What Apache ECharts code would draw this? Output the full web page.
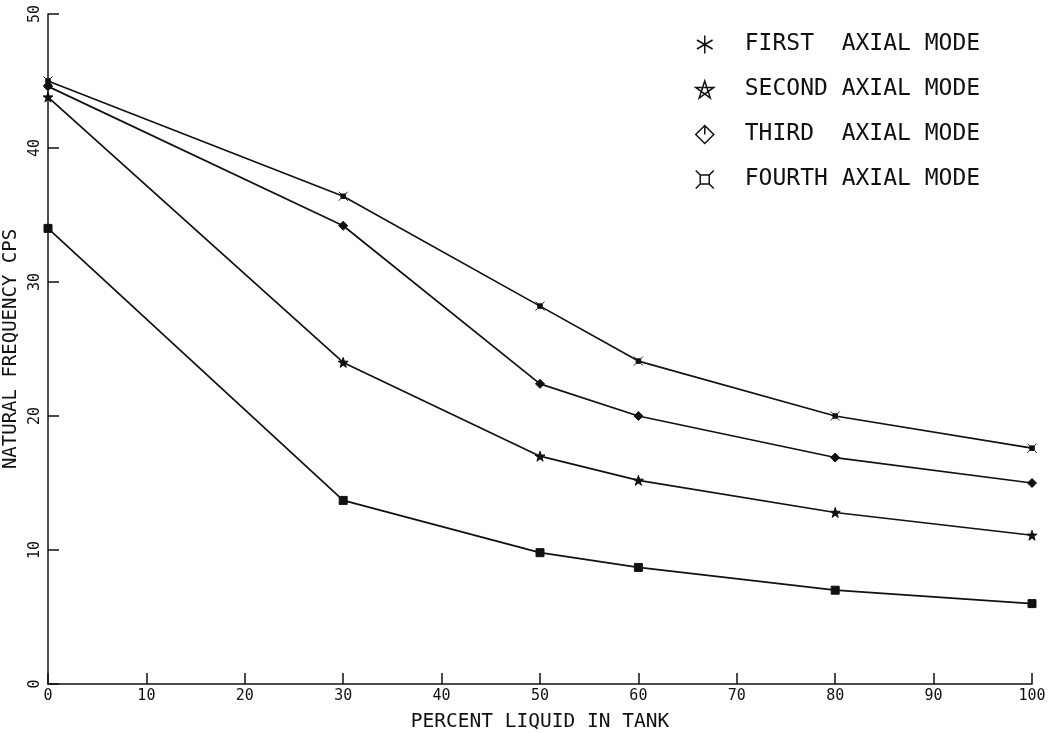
<!DOCTYPE html>
<html>
<head>
<meta charset="utf-8">
<script src="https://cdn.jsdelivr.net/npm/echarts@6/dist/echarts.min.js"></script>
<style>html,body{margin:0;padding:0;background:#fff}#c{width:1052px;height:733px}</style>
</head>
<body>
<div id="c"></div>
<script>
var percent = [0, 30, 50, 60, 80, 100];
var firstMode  = [34.0, 13.7, 9.8, 8.7, 7.0, 6.0];
var secondMode = [43.8, 24.0, 17.0, 15.2, 12.8, 11.1];
var thirdMode  = [44.6, 34.2, 22.4, 20.0, 16.9, 15.0];
var fourthMode = [45.0, 36.4, 28.2, 24.1, 20.0, 17.6];
var seriesNames = ['FIRST  AXIAL MODE', 'SECOND AXIAL MODE', 'THIRD  AXIAL MODE', 'FOURTH AXIAL MODE'];
var xTicks = [0, 10, 20, 30, 40, 50, 60, 70, 80, 90, 100];
var yTicks = [0, 10, 20, 30, 40, 50];

var ASTERISK = 'path://M0,-10L0,10M-8.7,-5L8.7,5M-8.7,5L8.7,-5';
var STAR = 'path://M0,-10L5.88,8.09L-9.51,-3.09L9.51,-3.09L-5.88,8.09Z';
var DIAMOND = 'path://M0,-10L10,0L0,10L-10,0ZM0,-10L0,0';
var XBOX = 'path://M-5,-5L5,-5L5,5L-5,5ZM-5,-5L-10,-10M5,-5L10,-10M5,5L10,10M-5,5L-10,10';

function pairs(ys){ return percent.map(function(x,i){ return [x, ys[i]]; }); }

var chart = echarts.init(document.getElementById('c'));
var mono = 'DejaVu Sans Mono';
var lineStyle = {color:'#111', width:1.7};
function mk(name, ys, sym, size){
  return {
    name: name, type:'line', data: pairs(ys), symbol: sym, symbolSize: size,
    lineStyle: lineStyle, itemStyle: {color:'#111', borderColor:'#111', borderWidth:1},
    emphasis: {disabled:true}, animation:false
  };
}
chart.setOption({
  backgroundColor:'#fff',
  animation:false,
  grid:{left:48, right:20, top:14, bottom:49, containLabel:false, outerBoundsMode:'none'},
  legend:{
    orient:'vertical', left:690, top:28, itemGap:22, itemWidth:18, itemHeight:18,
    textStyle:{fontFamily:mono, fontSize:23, lineHeight:22, color:'#111', padding:[0,0,0,26]},
    itemStyle:{color:'transparent', borderColor:'#111', borderWidth:1.5},
    lineStyle:{width:0, opacity:0},
    data:[
      {name:seriesNames[0], icon:ASTERISK},
      {name:seriesNames[1], icon:STAR},
      {name:seriesNames[2], icon:DIAMOND},
      {name:seriesNames[3], icon:XBOX}
    ]
  },
  xAxis:{
    type:'value', min:0, max:100, interval:10,
    name:'PERCENT LIQUID IN TANK', nameLocation:'middle', nameGap:28,
    nameTextStyle:{fontFamily:mono, fontSize:19.5, color:'#111'},
    axisLine:{lineStyle:{color:'#111', width:1.5}},
    axisTick:{inside:true, length:11, lineStyle:{color:'#111', width:1.5}},
    axisLabel:{fontFamily:mono, fontSize:15, color:'#111', margin:5,
      customValues: xTicks},
    splitLine:{show:false}
  },
  yAxis:{
    type:'value', min:0, max:50, interval:10,
    name:'NATURAL FREQUENCY CPS', nameLocation:'middle', nameGap:27, nameRotate:90,
    nameTextStyle:{fontFamily:mono, fontSize:19, color:'#111'},
    axisLine:{show:true, lineStyle:{color:'#111', width:1.5}},
    axisTick:{show:true, inside:true, length:11, lineStyle:{color:'#111', width:1.5}},
    axisLabel:{fontFamily:mono, fontSize:15, color:'#111', margin:5, rotate:90,
      customValues: yTicks},
    splitLine:{show:false}
  },
  series:[
    mk(seriesNames[0], firstMode, 'rect', 8),
    mk(seriesNames[1], secondMode, STAR, 10),
    mk(seriesNames[2], thirdMode, 'diamond', 9),
    mk(seriesNames[3], fourthMode, XBOX, 9)
  ]
});
</script>
</body>
</html>
